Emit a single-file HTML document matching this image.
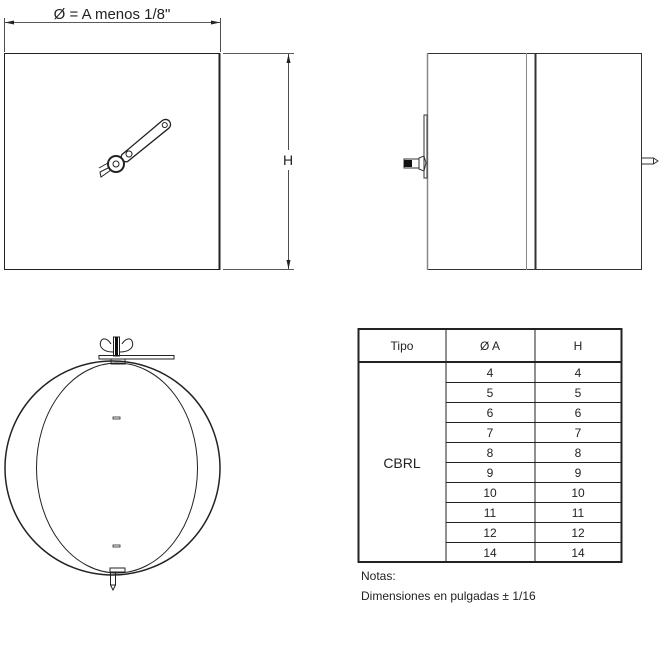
<!DOCTYPE html>
<html><head><meta charset="utf-8"><style>
html,body{margin:0;padding:0;background:#fff;}
svg{display:block;}
text{font-family:"Liberation Sans",sans-serif;}
</style></head><body>
<svg width="661" height="651" viewBox="0 0 661 651" xmlns="http://www.w3.org/2000/svg">
<g fill="none" stroke="#222">
<rect x="4.5" y="53.5" width="215" height="216" stroke-width="1"/>
<line x1="219.5" y1="53" x2="219.5" y2="270" stroke-width="2"/>
<line x1="4.5" y1="18" x2="4.5" y2="52" stroke-width="0.8"/>
<line x1="220.5" y1="18" x2="220.5" y2="52" stroke-width="0.8"/>
<line x1="5" y1="22.5" x2="220" y2="22.5" stroke-width="0.8"/>
<line x1="223" y1="53.5" x2="294" y2="53.5" stroke-width="0.8"/>
<line x1="223" y1="269.5" x2="294" y2="269.5" stroke-width="0.8"/>
<line x1="288.5" y1="54" x2="288.5" y2="150" stroke-width="0.8"/>
<line x1="288.5" y1="170" x2="288.5" y2="269" stroke-width="0.8"/>
<g transform="rotate(-39 129 154)">
<path d="M123,150 L176,149 A5,5 0 0 1 176,159 L123,159 A5,5 0 0 1 123,150 Z" stroke-width="1.3" fill="#fff"/>
<circle cx="175" cy="154" r="2.5" stroke-width="1"/>
<circle cx="129" cy="154" r="3" stroke-width="1"/>
</g>
<path d="M110,167 L100,172 L101,177 L111,170" stroke-width="1"/>
<path d="M108,163 L99,168" stroke-width="1"/>
<circle cx="116" cy="164" r="8" stroke-width="2" fill="#fff"/>
<circle cx="116" cy="164" r="3" stroke-width="1"/>
</g>
<g fill="#222">
<path d="M5,22.5 L14,20.5 L14,24.5 Z"/>
<path d="M220,22.5 L211,20.5 L211,24.5 Z"/>
<path d="M288.5,54 L286.5,63 L290.5,63 Z"/>
<path d="M288.5,269 L286.5,260 L290.5,260 Z"/>
</g>
<text x="112" y="19" font-size="15" text-anchor="middle" fill="#222">Ø = A menos 1/8"</text>
<text x="288" y="165" font-size="14" text-anchor="middle" fill="#222">H</text>

<g fill="none" stroke="#333">
<rect x="427.5" y="53.5" width="214" height="216" stroke-width="1"/>
<line x1="526.5" y1="53" x2="526.5" y2="270" stroke="#888" stroke-width="1"/>
<line x1="535.5" y1="53" x2="535.5" y2="270" stroke-width="2"/>
<line x1="427.5" y1="53" x2="427.5" y2="270" stroke="#888" stroke-width="1.5"/>
<rect x="424" y="115" width="3" height="63" stroke-width="1"/>
<path d="M419,158 L424,156 L426,163 L424,171 L419,169 Z" stroke-width="1"/>
<rect x="404" y="159" width="15" height="9" stroke-width="1"/>
<rect x="641.5" y="158" width="12" height="6" stroke-width="1"/>
<path d="M653.5,158 L658,161 L653.5,164" stroke-width="1"/>
</g>
<rect x="404" y="160" width="8" height="7" fill="#111"/>

<g fill="none" stroke="#222">
<ellipse cx="112.5" cy="468" rx="107.5" ry="107" stroke-width="1.5"/>
<ellipse cx="117" cy="468" rx="80.5" ry="105" stroke-width="1"/>
<rect x="113" y="417" width="7" height="2" stroke-width="0.8"/>
<rect x="113" y="545" width="7" height="2" stroke-width="0.8"/>
<rect x="113.5" y="337" width="6" height="19" stroke-width="1"/>
<path d="M113,352 C105,352 98,348 101,341 C103,337 108,339 111,344" stroke-width="1"/>
<path d="M120,352 C128,352 135,348 132,341 C130,337 125,339 122,344" stroke-width="1"/>
<rect x="99" y="355.5" width="75" height="3.5" stroke-width="1"/>
<rect x="111" y="359" width="14" height="5" stroke-width="1"/>
<rect x="110" y="568" width="15" height="4" stroke-width="1"/>
<rect x="110.5" y="572" width="5" height="13" stroke-width="1"/>
<path d="M110.5,585 L113,590 L115.5,585" stroke-width="1"/>
</g>
<rect x="115" y="337" width="3" height="19" fill="#111"/>

<g fill="none" stroke="#222">
<rect x="358.5" y="329" width="263" height="233" stroke-width="2"/>
<line x1="358" y1="362" x2="622" y2="362" stroke-width="2"/>
<line x1="446" y1="329" x2="446" y2="562" stroke-width="1"/>
<line x1="535" y1="329" x2="535" y2="562" stroke-width="1"/>
<g stroke-width="1">
<line x1="446" y1="382.5" x2="622" y2="382.5"/>
<line x1="446" y1="402.5" x2="622" y2="402.5"/>
<line x1="446" y1="422.5" x2="622" y2="422.5"/>
<line x1="446" y1="442.5" x2="622" y2="442.5"/>
<line x1="446" y1="462.5" x2="622" y2="462.5"/>
<line x1="446" y1="482.5" x2="622" y2="482.5"/>
<line x1="446" y1="502.5" x2="622" y2="502.5"/>
<line x1="446" y1="522.5" x2="622" y2="522.5"/>
<line x1="446" y1="542.5" x2="622" y2="542.5"/>
</g>
</g>
<g font-size="12" text-anchor="middle" fill="#222">
<text x="402" y="350">Tipo</text>
<text x="490" y="350">Ø A</text>
<text x="578" y="350">H</text>
<text x="402" y="468" font-size="14">CBRL</text>
<text x="490" y="377">4</text><text x="578" y="377">4</text>
<text x="490" y="397">5</text><text x="578" y="397">5</text>
<text x="490" y="417">6</text><text x="578" y="417">6</text>
<text x="490" y="437">7</text><text x="578" y="437">7</text>
<text x="490" y="457">8</text><text x="578" y="457">8</text>
<text x="490" y="477">9</text><text x="578" y="477">9</text>
<text x="490" y="497">10</text><text x="578" y="497">10</text>
<text x="490" y="517">11</text><text x="578" y="517">11</text>
<text x="490" y="537">12</text><text x="578" y="537">12</text>
<text x="490" y="557">14</text><text x="578" y="557">14</text>
</g>
<text x="361" y="580" font-size="12" fill="#222">Notas:</text>
<text x="361" y="600" font-size="12" fill="#222">Dimensiones en pulgadas ± 1/16</text>
</svg>
</body></html>
